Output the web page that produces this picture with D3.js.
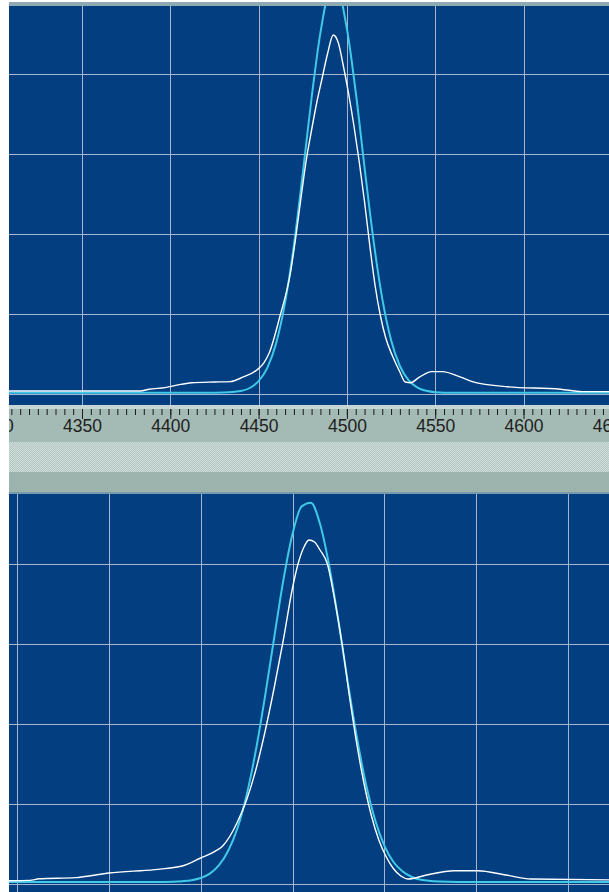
<!DOCTYPE html>
<html><head><meta charset="utf-8">
<script src="https://cdn.jsdelivr.net/npm/d3@7"></script>
<style>html,body{margin:0;padding:0;background:#fff;overflow:hidden}svg{display:block}</style>
</head><body>
<svg id="c" width="609" height="892"></svg>
<script>
// ---------- data ----------
const rulerLabels = [4300, 4350, 4400, 4450, 4500, 4550, 4600, 4650];
const topGridX = [4300, 4350, 4400, 4450, 4500, 4550, 4600, 4650];
const botGridX = [4350, 4400, 4450, 4500, 4550, 4600, 4650];
const gridY = [0, 20, 40, 60, 80];

const topCyanWl  = [4290,4420,4430,4440,4445,4450,4455,4460,4465,4470,4475,4480,4485,4490,4495,4500,4505,4510,4515,4520,4525,4530,4535,4540,4545,4550,4560,4670];
const topCyanVal = [0.3,0.3,0.35,0.75,1.5,3.2,6.6,12.8,22.9,37.2,55.1,74.0,90.3,99.9,100.3,91.3,75.5,56.6,38.6,23.9,13.5,7.0,3.4,1.6,0.8,0.45,0.3,0.3];

const topWhiteWl  = [4290,4383,4388,4397,4406,4412,4425,4434,4441,4449,4453,4456,4462,4468,4471.6,4474.6,4477,4480,4483,4486,4489,4492.3,4495,4498,4501,4504,4507,4510,4513,4516,4519,4522,4526,4530,4533,4536,4541,4548,4554,4564,4571,4591,4621,4633,4670];
const topWhiteVal = [0.75,0.75,1.2,1.6,2.4,2.8,3.0,3.1,4.2,6.0,7.8,10.25,19.3,30.25,41,51,58.5,66,73,79,85,89.75,88,82,75,67,58,48,37,27,19.5,14,9.3,5.5,3.0,2.8,4.2,5.6,5.6,4.3,3.1,1.8,1.2,0.6,0.6];

const botCyanWl  = [4330,4430,4440,4445,4450,4455,4460,4465,4470,4475,4480,4485,4490,4495,4500,4505,4510,4515,4520,4525,4530,4535,4540,4545,4550,4555,4560,4565,4570,4580,4590,4690];
const botCyanVal = [0.5,0.5,0.7,0.95,1.5,2.6,4.7,8.3,13.9,22.2,33.3,46.8,61.5,75.9,87.5,94.4,95.3,90.0,79.5,65.7,50.8,36.8,25.0,16.0,9.6,5.5,3.1,1.75,1.05,0.6,0.5,0.5];

const botWhiteWl  = [4330,4357,4362,4382,4392,4400,4425,4440,4450,4458,4462,4466,4470,4475,4480,4485,4490,4495,4500,4503,4506,4509,4512,4515,4519,4523,4527,4531,4535,4539,4543,4547,4551,4555,4559,4563,4573,4588,4601,4616,4630,4690];
const botWhiteVal = [0.75,0.9,1.3,1.6,2.2,2.75,3.6,4.5,6.5,8.2,9.5,12,15.5,21,28.5,38,49,61,74,80,84,86,85.5,83.5,80,71,60,47,35,25,17,11,6.8,3.8,2.0,1.25,2.25,3.3,3.3,2.25,1.25,1.0];

// ---------- drawing ----------
const svg = d3.select('#c');
const PANEL = '#023e80', GRID = '#a3b5cf', CYAN = '#3fc9e6', WHITE = '#ffffff';
const LEFT = 9, W = 609;

const topP = {y0: 6, y1: 405};
const botP = {y0: 494, y1: 892};

const xTop = d3.scaleLinear().domain([4350, 4600]).range([82, 523.5]);
const yTop = d3.scaleLinear().domain([0, 80]).range([394, 74]);
const xBot = d3.scaleLinear().domain([4350, 4650]).range([17, 568]);
const yBot = d3.scaleLinear().domain([0, 80]).range([884, 564]);

const defs = svg.append('defs');
function clip(id, p) {
  defs.append('clipPath').attr('id', id).append('rect')
    .attr('x', LEFT).attr('y', p.y0).attr('width', W - LEFT).attr('height', p.y1 - p.y0);
}
clip('ctop', topP); clip('cbot', botP);

const pat = defs.append('pattern').attr('id', 'hatch').attr('width', 2).attr('height', 2)
  .attr('patternUnits', 'userSpaceOnUse');
pat.append('rect').attr('width', 2).attr('height', 2).attr('fill', '#b3c8c2');
pat.append('rect').attr('width', 1).attr('height', 1).attr('fill', '#cfdcd8');
pat.append('rect').attr('x', 1).attr('y', 1).attr('width', 1).attr('height', 1).attr('fill', '#cfdcd8');

// top gray strip
svg.append('rect').attr('x', LEFT).attr('y', 2).attr('width', W - LEFT).attr('height', 4).attr('fill', '#8eaab2');

function panel(p, xs, ys, gx, cyanWl, cyanVal, whiteWl, whiteVal, cid) {
  svg.append('rect').attr('x', LEFT).attr('y', p.y0).attr('width', W - LEFT).attr('height', p.y1 - p.y0).attr('fill', PANEL);
  const g = svg.append('g').attr('clip-path', `url(#${cid})`);
  g.selectAll('.vx').data(gx).join('line')
    .attr('x1', d => Math.round(xs(d)) + 0.5).attr('x2', d => Math.round(xs(d)) + 0.5)
    .attr('y1', p.y0).attr('y2', p.y1).attr('stroke', GRID).attr('stroke-width', 1);
  g.selectAll('.hy').data(gridY).join('line')
    .attr('x1', LEFT).attr('x2', W)
    .attr('y1', d => Math.round(ys(d)) + 0.5).attr('y2', d => Math.round(ys(d)) + 0.5)
    .attr('stroke', GRID).attr('stroke-width', 1);
  const line = d3.line().x(d => xs(d[0])).y(d => ys(d[1])).curve(d3.curveMonotoneX);
  g.append('path').datum(cyanWl.map((w, i) => [w, cyanVal[i]]))
    .attr('d', line).attr('fill', 'none').attr('stroke', CYAN).attr('stroke-width', 2);
  g.append('path').datum(whiteWl.map((w, i) => [w, whiteVal[i]]))
    .attr('d', line).attr('fill', 'none').attr('stroke', WHITE).attr('stroke-width', 1.4);
}
panel(topP, xTop, yTop, topGridX, topCyanWl, topCyanVal, topWhiteWl, topWhiteVal, 'ctop');

// ruler
svg.append('rect').attr('x', LEFT).attr('y', 405).attr('width', W - LEFT).attr('height', 4).attr('fill', '#c6d6d6');
svg.append('rect').attr('x', LEFT).attr('y', 409).attr('width', W - LEFT).attr('height', 33).attr('fill', '#a4bab4');
svg.append('rect').attr('x', LEFT).attr('y', 442).attr('width', W - LEFT).attr('height', 30).attr('fill', 'url(#hatch)');
svg.append('rect').attr('x', LEFT).attr('y', 472).attr('width', W - LEFT).attr('height', 20).attr('fill', '#9db3ae');
svg.append('rect').attr('x', LEFT).attr('y', 492).attr('width', W - LEFT).attr('height', 2).attr('fill', '#7a98ae');

const minor = d3.range(4295, 4660, 5);
const rg = svg.append('g').attr('transform', 'translate(0,409)');
const ax1 = rg.append('g').call(d3.axisBottom(xTop).tickValues(minor).tickSize(6).tickFormat(''));
const ax2 = rg.append('g').call(d3.axisBottom(xTop).tickValues(rulerLabels).tickSize(10).tickFormat(d3.format('d')));
[ax1, ax2].forEach(a => { a.select('.domain').remove(); a.selectAll('line').attr('stroke', '#1a1a1a'); });
ax2.selectAll('text').attr('y', 10).attr('dy', '0').attr('fill', '#1e1e1e')
  .style('font-family', '"Liberation Sans", Arial, sans-serif').style('font-size', '17.5px')
  .attr('dominant-baseline', 'hanging');
svg.append('rect').attr('x', 0).attr('y', 400).attr('width', LEFT).attr('height', 100).attr('fill', '#fff');

panel(botP, xBot, yBot, botGridX, botCyanWl, botCyanVal, botWhiteWl, botWhiteVal, 'cbot');
</script>
</body></html>
